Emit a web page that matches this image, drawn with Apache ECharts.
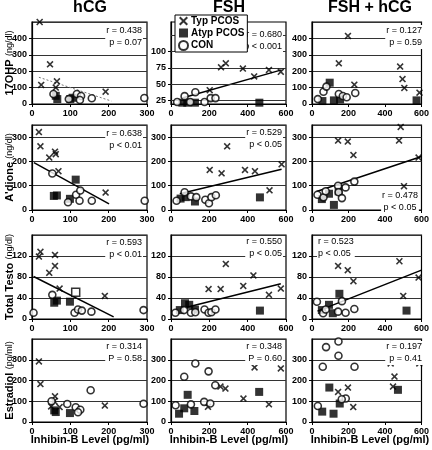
<!DOCTYPE html>
<html><head><meta charset="utf-8">
<script src="https://cdn.jsdelivr.net/npm/echarts@6/dist/echarts.min.js"></script>
<style>html,body{margin:0;padding:0;background:#fff}#c{width:432px;height:450px}</style>
</head><body><div id="c"></div><script>
// ---------- DATA ----------
const colTitles = ['hCG', 'FSH', 'FSH + hCG'];
const rowNames = [['17OHP', '(ng/dl)'], ["A'dione", '(ng/dl)'], ['Total Testo', '(ng/dl)'], ['Estradiol', '(pg/ml)']];
const xName = 'Inhibin-B Level (pg/ml)';
const seriesNames = ['Typ PCOS', 'Atyp PCOS', 'CON'];
const fshOhpTicks = [25, 50, 75, 100, 125];

// Row 1: 17OHP
const ohp_hcg_typ = [[20,500],[47,242],[24,116],[65,138],[62,100],[192,75]];
const ohp_hcg_atyp = [[62,50],[66,30],[100,30],[106,38]];
const ohp_hcg_con = [[56,61],[96,30],[117,61],[128,49],[125,24],[156,35],[293,37]];
const ohp_hcg_fit = [[18,163],[207,18]];
const ohp_fsh_typ = [[202,41],[261,76],[286,82],[375,74],[434,62],[511,72],[573,69]];
const ohp_fsh_atyp = [[59,22],[85,22],[125,22],[461,22]];
const ohp_fsh_con = [[32,23],[71,32],[127,38],[100,23],[175,23],[207,29],[232,29]];
const ohp_fsh_fit = [[59,29],[577,72]];
const ohp_both_typ = [[197,415],[147,248],[483,228],[496,152],[506,98],[589,69],[232,118]];
const ohp_both_atyp = [[97,130],[57,18],[120,22],[154,28],[573,22]];
const ohp_both_con = [[32,30],[63,75],[79,106],[147,61],[169,49],[190,41],[237,67]];

// Row 2: A'dione
const adi_hcg_typ = [[18,321],[22,262],[45,216],[60,240],[62,230],[69,160],[192,72]];
const adi_hcg_atyp = [[57,58],[65,60],[114,125],[99,46]];
const adi_hcg_con = [[53,150],[94,32],[115,63],[126,80],[124,38],[156,38],[294,38]];
const adi_hcg_fit = [[5,195],[201,25]];
const adi_fsh_typ = [[293,262],[202,165],[264,151],[386,165],[438,160],[577,188],[514,81]];
const adi_fsh_atyp = [[50,47],[77,53],[125,35],[464,52]];
const adi_fsh_con = [[29,38],[71,73],[104,56],[132,53],[179,42],[198,28],[211,53],[234,61]];
const adi_fsh_fit = [[46,67],[577,168]];
const adi_both_typ = [[143,286],[196,282],[227,226],[486,342],[477,286],[504,98],[584,216]];
const adi_both_atyp = [[54,45],[93,67],[120,21],[146,77],[518,49]];
const adi_both_con = [[30,63],[63,52],[75,77],[143,100],[146,73],[164,49],[184,93],[232,117]];
const adi_both_fit = [[25,76],[600,220]];

// Row 3: Total Testo
const tt_hcg_typ = [[22,128],[18,119],[60,122],[60,101],[45,88],[72,58],[190,44]];
const tt_hcg_atyp = [[58,31],[65,35],[99,33]];
const tt_hcg_open = [[114,51]];
const tt_hcg_con = [[4,12],[53,46],[111,12],[120,18],[130,16],[155,14],[291,17]];
const tt_hcg_fit = [[4,81],[213,4]];
const tt_fsh_typ = [[286,105],[196,57],[259,57],[377,63],[430,83],[511,46],[573,58]];
const tt_fsh_atyp = [[73,30],[46,17],[95,27],[125,18],[464,16]];
const tt_fsh_con = [[23,12],[68,17],[104,12],[127,13],[175,18],[196,12],[211,13],[232,18]];
const tt_fsh_fit = [[77,22],[573,67]];
const tt_both_typ = [[489,162],[479,110],[143,101],[196,93],[227,72],[500,44],[584,79]];
const tt_both_atyp = [[150,48],[93,27],[54,17],[114,11],[518,16]];
const tt_both_con = [[27,33],[61,11],[75,18],[143,14],[164,34],[184,12],[232,19]];
const tt_both_fit = [[30,15],[600,93]];

// Row 4: Estradiol
const e2_hcg_typ = [[18,292],[22,183],[60,124],[58,100],[50,75],[72,72],[190,79]];
const e2_hcg_atyp = [[58,56],[99,43],[62,48]];
const e2_hcg_con = [[51,100],[92,87],[114,71],[126,59],[120,47],[153,153],[291,88]];
const e2_fsh_typ = [[258,171],[284,161],[378,113],[436,263],[511,85],[573,258],[193,73]];
const e2_fsh_atyp = [[42,40],[69,66],[87,131],[122,53],[460,145]];
const e2_fsh_con = [[24,81],[69,218],[127,282],[196,244],[104,85],[173,97],[205,89],[231,177]];
const e2_both_typ = [[143,145],[197,166],[226,72],[431,282],[452,219],[444,171],[588,282]];
const e2_both_atyp = [[56,50],[95,166],[118,40],[152,89],[471,155]];
const e2_both_con = [[32,77],[77,361],[59,266],[145,388],[145,319],[233,266],[185,113],[163,110]];

// stats text
const statsText = [
  ['r = 0.438', 'p = 0.07'], ['r = 0.680', 'p < 0.001'], ['r = 0.127', 'p = 0.59'],
  ['r = 0.638', 'p < 0.01'], ['r = 0.529', 'p < 0.05'], ['r = 0.478', 'p < 0.05'],
  ['r = 0.593', 'p < 0.01'], ['r = 0.550', 'p < 0.05'], ['r = 0.523', 'p < 0.05'],
  ['r = 0.314', 'P = 0.58'], ['r = 0.348', 'P = 0.60'], ['r = 0.197', 'p = 0.41']
];

// ---------- LAYOUT ----------
const FONT = 'Liberation Sans, Arial, sans-serif';
const colLeft = [32, 171, 312];
const colW = 115;
const rowTop = [22, 125, 235, 339];
const rowH = [82, 85, 84, 83];
const yAxes = [
  {min: 0, max: 500, interval: 100},
  {min: 0, max: 350, interval: 100},
  {min: 0, max: 160, interval: 40},
  {min: 0, max: 400, interval: 100}
];
const xAxesDef = [{min: 0, max: 300, interval: 100}, {min: 0, max: 600, interval: 200}, {min: 0, max: 600, interval: 200}];

const panels = [
  [ {typ: ohp_hcg_typ, atyp: ohp_hcg_atyp, con: ohp_hcg_con, fit: ohp_hcg_fit, dotted: true},
    {typ: ohp_fsh_typ, atyp: ohp_fsh_atyp, con: ohp_fsh_con, fit: ohp_fsh_fit, special: true},
    {typ: ohp_both_typ, atyp: ohp_both_atyp, con: ohp_both_con} ],
  [ {typ: adi_hcg_typ, atyp: adi_hcg_atyp, con: adi_hcg_con, fit: adi_hcg_fit},
    {typ: adi_fsh_typ, atyp: adi_fsh_atyp, con: adi_fsh_con, fit: adi_fsh_fit},
    {typ: adi_both_typ, atyp: adi_both_atyp, con: adi_both_con, fit: adi_both_fit} ],
  [ {typ: tt_hcg_typ, atyp: tt_hcg_atyp, con: tt_hcg_con, fit: tt_hcg_fit, open: tt_hcg_open},
    {typ: tt_fsh_typ, atyp: tt_fsh_atyp, con: tt_fsh_con, fit: tt_fsh_fit},
    {typ: tt_both_typ, atyp: tt_both_atyp, con: tt_both_con, fit: tt_both_fit} ],
  [ {typ: e2_hcg_typ, atyp: e2_hcg_atyp, con: e2_hcg_con},
    {typ: e2_fsh_typ, atyp: e2_fsh_atyp, con: e2_fsh_con},
    {typ: e2_both_typ, atyp: e2_both_atyp, con: e2_both_con} ]
];

// stats positions: [x, y, align]
const statsPos = [
  [143, 25, 'right'], [283, 29, 'right'], [423, 25, 'right'],
  [143, 128, 'right'], [283, 127, 'right'], [400, 190, 'center'],
  [143, 237, 'right'], [283, 236, 'right'], [317, 236, 'left'],
  [143, 341, 'right'], [283, 341, 'right'], [423, 341, 'right']
];

const CROSS = 'path://M0,1.6L1.6,0L5,3.4L8.4,0L10,1.6L6.6,5L10,8.4L8.4,10L5,6.6L1.6,10L0,8.4L3.4,5Z';

const grids = [], xAxis = [], yAxis = [], series = [], graphics = [];
let gi = 0;
for (let r = 0; r < 4; r++) {
  for (let c = 0; c < 3; c++) {
    const p = panels[r][c];
    grids.push({left: colLeft[c], top: rowTop[r], width: colW, height: rowH[r], show: true,
      borderColor: '#000', borderWidth: 1.2, backgroundColor: '#fff', containLabel: false});
    const xd = xAxesDef[c];
    xAxis.push({type: 'value', gridIndex: gi, min: xd.min, max: xd.max, interval: xd.interval,
      axisLine: {show: true, lineStyle: {color: '#000', width: 1.2}},
      axisTick: {show: true, length: 3, lineStyle: {color: '#000'}},
      axisLabel: {fontFamily: FONT, fontSize: 9, fontWeight: 'bold', color: '#000', margin: 5},
      splitLine: {show: false}});
    let yd = yAxes[r];
    const ya = {type: 'value', gridIndex: gi,
      axisLine: {show: true, lineStyle: {color: '#000', width: 1.2}},
      axisTick: {show: true, length: 3, lineStyle: {color: '#000'}},
      axisLabel: {fontFamily: FONT, fontSize: 9, fontWeight: 'bold', color: '#000', margin: 5, showMaxLabel: false},
      splitLine: {show: true, lineStyle: {color: '#333', width: 1}}};
    if (p.special) {
      ya.min = 20; ya.max = 145;
      ya.axisLabel.customValues = fshOhpTicks;
      ya.axisTick.customValues = fshOhpTicks;
      ya.splitLine = {show: false};
    } else {
      ya.min = yd.min; ya.max = yd.max; ya.interval = yd.interval;
    }
    yAxis.push(ya);
    const typS = {type: 'scatter', name: seriesNames[0], xAxisIndex: gi, yAxisIndex: gi, data: p.typ,
      symbol: CROSS, symbolSize: 7, itemStyle: {color: '#000'}, z: 5, silent: true};
    if (p.special) {
      typS.markLine = {silent: true, symbol: 'none', label: {show: false},
        lineStyle: {color: '#333', width: 1, type: 'solid'},
        data: fshOhpTicks.map(v => ({yAxis: v}))};
    }
    series.push(typS);
    series.push({type: 'scatter', name: seriesNames[1], xAxisIndex: gi, yAxisIndex: gi, data: p.atyp,
      symbol: 'rect', symbolSize: 8, itemStyle: {color: '#000'}, z: 5, silent: true});
    if (p.open) {
      series.push({type: 'scatter', name: 'open', xAxisIndex: gi, yAxisIndex: gi, data: p.open,
        symbol: 'rect', symbolSize: 8, itemStyle: {color: '#fff', borderColor: '#000', borderWidth: 1.5}, z: 5, silent: true});
    }
    series.push({type: 'scatter', name: seriesNames[2], xAxisIndex: gi, yAxisIndex: gi, data: p.con,
      symbol: 'circle', symbolSize: 7, itemStyle: {color: '#fff', borderColor: '#000', borderWidth: 1.6}, z: 6, silent: true});
    if (p.fit) {
      series.push({type: 'line', name: 'fit', xAxisIndex: gi, yAxisIndex: gi, data: p.fit, symbol: 'none',
        lineStyle: p.dotted ? {color: '#777', width: 1, type: [2, 2]} : {color: '#000', width: 1.5}, z: 4, silent: true});
    }
    const sp = statsPos[gi];
    const st = statsText[gi];
    graphics.push({type: 'text', x: sp[0], y: sp[1], z: 100,
      style: {text: st[0] + '\n' + st[1], fontFamily: FONT, fontSize: 9, fill: '#000', align: sp[2],
        lineHeight: 12, backgroundColor: '#fff', padding: [0, 1]}});
    gi++;
  }
}

// titles
const titleX = [90, 229, 370];
colTitles.forEach((t, i) => graphics.push({type: 'text', x: titleX[i], y: 0, z: 200, style: {text: t, fontFamily: FONT,
  fontSize: 16, fontWeight: 'bold', fill: '#000', align: 'center'}}));
// y names
rowNames.forEach((n, r) => graphics.push({type: 'text', x: 4, y: rowTop[r] + rowH[r] / 2, rotation: Math.PI / 2,
  style: {text: '{b|' + n[0] + '} {n|' + n[1] + '}', align: 'center', verticalAlign: 'top',
    rich: {b: {fontFamily: FONT, fontSize: 11, fontWeight: 'bold', fill: '#000'},
           n: {fontFamily: FONT, fontSize: 9, fill: '#000'}}}}));
// x names
const xNameX = [90, 229, 370];
xNameX.forEach(x => graphics.push({type: 'text', x: x, y: 434, style: {text: xName, fontFamily: FONT,
  fontSize: 11, fontWeight: 'bold', fill: '#000', align: 'center'}}));

const chart = echarts.init(document.getElementById('c'), null, {renderer: 'canvas'});
chart.setOption({
  animation: false,
  backgroundColor: '#fff',
  grid: grids, xAxis: xAxis, yAxis: yAxis, series: series,
  legend: {data: seriesNames, orient: 'vertical', left: 175, top: 15, itemGap: 2, itemWidth: 9, itemHeight: 9,
    padding: [1, 3, 1, 3], backgroundColor: '#fff', borderColor: '#000', borderWidth: 1, z: 150,
    textStyle: {fontFamily: FONT, fontSize: 10, fontWeight: 'bold', color: '#000', padding: [0, 0, 0, -2]}},
  graphic: graphics
});
</script></body></html>
